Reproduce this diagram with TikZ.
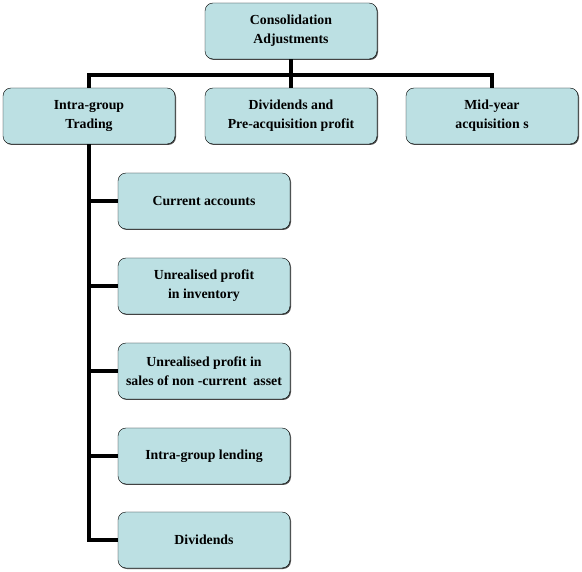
\documentclass[tikz,border=0pt]{standalone}
\usepackage{fontspec}
\setmainfont{Liberation Serif}
\usetikzlibrary{calc, positioning, shadows}
\definecolor{boxfill}{RGB}{188,224,227}

\begin{document}
\begin{tikzpicture}[x=1pt, y=-1pt,
        adjbox/.style={draw, thin, fill=boxfill, rounded corners=8pt,
            minimum width=172pt, minimum height=56pt, align=center,
            font=\fontsize{13.8}{19}\selectfont\bfseries,
            drop shadow={shadow xshift=1pt, shadow yshift=-1pt, fill=black!70, opacity=1}},
        link/.style={line width=3.2pt}]
        %輸出區塊
        \useasboundingbox (0,0) rectangle (582,572);
        
        \node[adjbox] (top)   at (291,31)  {Consolidation\\Adjustments};
        \node[adjbox] (intra) at (89,116)  {Intra-group\\Trading};
        \node[adjbox] (divpre) at (291,116) {Dividends and\\Pre-acquisition profit};
        \node[adjbox] (mid)   at (492,116) {Mid-year\\acquisition s};
        
        \node[adjbox] (curr)   at (204,201) {Current accounts};
        \node[adjbox] (unrinv) at (204,286) {Unrealised profit\\ in inventory};
        \node[adjbox] (unrnca) at (204,371) {Unrealised profit in\\sales of non -current\ \ asset};
        \node[adjbox] (lend)   at (204,456) {Intra-group lending};
        \node[adjbox] (divd)   at (204,540) {Dividends};
        
        \coordinate (bus) at (291,75);
        \draw[link] (top.south) -- (divpre.north);
        \draw[link] (intra.north) |- (bus) -| (mid.north);
        
        \foreach \v in 
        {curr,unrinv,unrnca,lend,divd}
        {
            \draw[link] (intra.south) |- (\v.west);
        };

    \end{tikzpicture}
\end{document}
